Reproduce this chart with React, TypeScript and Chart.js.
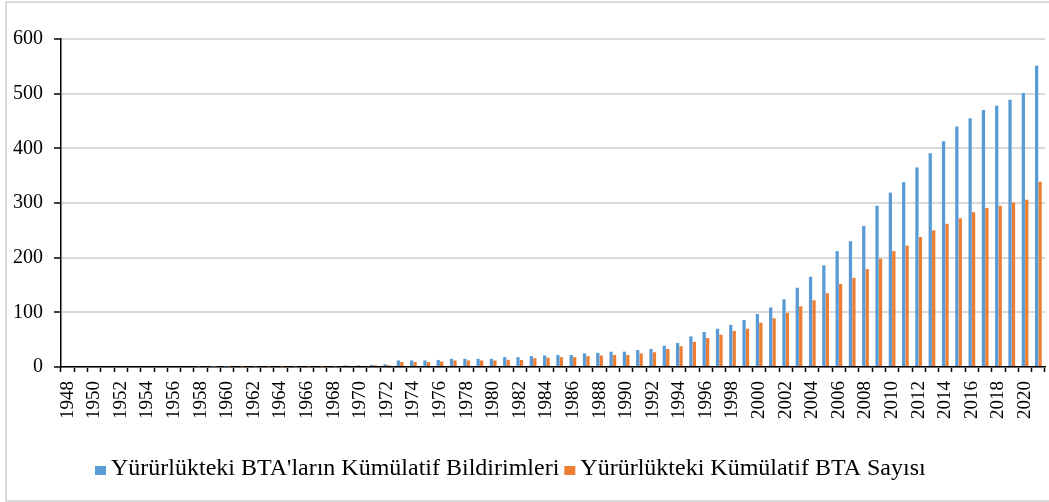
import React, { useEffect, useRef } from 'react';
import { Chart, registerables } from 'chart.js';

Chart.register(...registerables);

const years = [
  '1948', '1949', '1950', '1951', '1952', '1953', '1954', '1955', '1956', '1957',
  '1958', '1959', '1960', '1961', '1962', '1963', '1964', '1965', '1966', '1967',
  '1968', '1969', '1970', '1971', '1972', '1973', '1974', '1975', '1976', '1977',
  '1978', '1979', '1980', '1981', '1982', '1983', '1984', '1985', '1986', '1987',
  '1988', '1989', '1990', '1991', '1992', '1993', '1994', '1995', '1996', '1997',
  '1998', '1999', '2000', '2001', '2002', '2003', '2004', '2005', '2006', '2007',
  '2008', '2009', '2010', '2011', '2012', '2013', '2014', '2015', '2016', '2017',
  '2018', '2019', '2020', '2021',
];

const notifications = [
  0, 0, 0, 0, 0, 0, 0, 0, 0, 0,
  1, 1, 1, 2, 2, 2, 2, 2, 2, 2,
  2, 3, 3, 4, 5, 12, 12, 12, 13, 15,
  15, 15, 15, 18, 18, 20, 21, 22, 22, 25,
  26, 28, 28, 31, 33, 39, 44, 56, 64, 70,
  77, 86, 97, 109, 124, 145, 165, 186, 212, 230,
  258, 295, 319, 338, 365, 391, 413, 440, 455, 470,
  478, 489, 501, 551,
];

const agreements = [
  0, 0, 0, 0, 0, 0, 0, 0, 0, 0,
  0, 1, 1, 1, 1, 1, 1, 1, 1, 1,
  1, 2, 2, 3, 3, 9, 9, 9, 10, 12,
  12, 12, 12, 13, 13, 16, 17, 18, 18, 20,
  21, 22, 22, 25, 27, 33, 38, 46, 53, 59,
  66, 70, 81, 89, 99, 111, 122, 135, 152, 163,
  179, 198, 212, 222, 238, 250, 262, 272, 283, 291,
  295, 301, 306, 339,
];

const seriesNames = [
  "Yürürlükteki BTA'ların Kümülatif Bildirimleri",
  'Yürürlükteki Kümülatif BTA Sayısı',
];

const seriesColors = ['#5B9BD5', '#ED7D31'];

const yMin = 0;
const yMax = 600;
const yStep = 100;

const FONT = "'Liberation Serif', 'Times New Roman', serif";

// Legend drawn as a small plugin so box/text spacing matches the original
const LEGEND_X = 95;
const LEGEND_BASELINE = 475;
const LEGEND_BOX_W = 11;
const LEGEND_BOX_H = 9;
const LEGEND_GAP = 5;

const legendPlugin = {
  id: 'officeLegend',
  afterDraw(chart: any) {
    const ctx = chart.ctx as CanvasRenderingContext2D;
    ctx.save();
    ctx.font = `24px ${FONT}`;
    ctx.textAlign = 'left';
    ctx.textBaseline = 'alphabetic';
    let x = LEGEND_X;
    chart.data.datasets.forEach((ds: any) => {
      ctx.fillStyle = ds.backgroundColor;
      ctx.fillRect(x, LEGEND_BASELINE - LEGEND_BOX_H, LEGEND_BOX_W, LEGEND_BOX_H);
      x += LEGEND_BOX_W + LEGEND_GAP;
      ctx.fillStyle = '#000';
      ctx.fillText(ds.label, x, LEGEND_BASELINE);
      x += ctx.measureText(ds.label).width + LEGEND_GAP;
    });
    ctx.restore();
  },
};

export default function App() {
  const canvasRef = useRef<HTMLCanvasElement>(null);

  useEffect(() => {
    const canvas = canvasRef.current;
    if (!canvas) return;
    const chart = new Chart(canvas, {
      type: 'bar',
      data: {
        labels: years,
        datasets: [
          {
            label: seriesNames[0],
            data: notifications,
            backgroundColor: seriesColors[0],
            borderWidth: 0,
            categoryPercentage: 0.52,
            barPercentage: 0.95,
          },
          {
            label: seriesNames[1],
            data: agreements,
            backgroundColor: seriesColors[1],
            borderWidth: 0,
            categoryPercentage: 0.52,
            barPercentage: 0.95,
          },
        ],
      },
      plugins: [legendPlugin],
      options: {
        responsive: false,
        animation: false,
        layout: { padding: { top: 39, left: 0, right: 4, bottom: 52 } },
        plugins: {
          legend: { display: false },
          tooltip: { enabled: false },
        },
        scales: {
          x: {
            grid: {
              display: true,
              drawOnChartArea: false,
              drawTicks: true,
              tickLength: 5,
              tickColor: '#000',
              tickWidth: 1.5,
              offset: true,
            },
            border: { display: true, color: '#000', width: 1.5 },
            ticks: {
              autoSkip: false,
              minRotation: 90,
              maxRotation: 90,
              padding: 9,
              color: '#000',
              font: { family: FONT, size: 19 },
              callback: (_v: any, i: number) => (i % 2 === 0 ? years[i] : ''),
            },
            afterFit: (s: any) => {
              s.height = 83;
              s.paddingLeft = 0;
              s.paddingRight = 0;
            },
          },
          y: {
            min: yMin,
            max: yMax,
            ticks: {
              stepSize: yStep,
              padding: 11,
              color: '#000',
              font: { family: FONT, size: 20 },
            },
            grid: {
              color: '#d9d9d9',
              lineWidth: 2,
              tickColor: '#000',
              tickLength: 7,
              tickWidth: 1.5,
            },
            border: { display: true, color: '#000', width: 1.5 },
            afterFit: (s: any) => {
              s.width = 61;
            },
          },
        },
      },
    });
    return () => chart.destroy();
  }, []);

  return (
    <div
      style={{
        position: 'absolute',
        left: 0,
        top: 0,
        width: 1049,
        height: 502,
        overflow: 'hidden',
        background: '#fff',
      }}
    >
      <div
        style={{
          position: 'absolute',
          left: 5,
          top: 1,
          width: 1100,
          height: 501,
          boxSizing: 'border-box',
          border: '2px solid #d9d9d9',
        }}
      />
      <canvas
        ref={canvasRef}
        width={1049}
        height={502}
        style={{ position: 'absolute', left: 0, top: 0, width: 1049, height: 502 }}
      />
    </div>
  );
}
